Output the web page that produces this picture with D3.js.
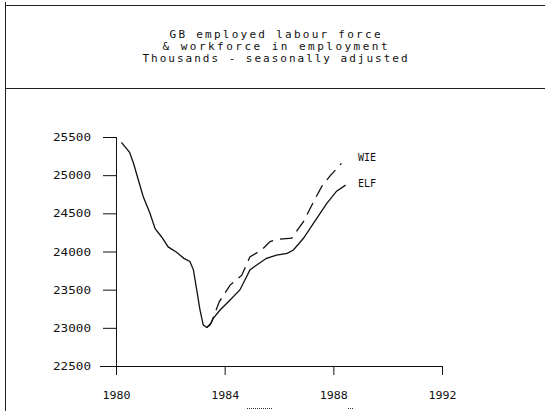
<!DOCTYPE html>
<html>
<head>
<meta charset="utf-8">
<script src="https://cdn.jsdelivr.net/npm/d3@7"></script>
<style>
  html, body { margin: 0; padding: 0; background: #fff; }
  svg { display: block; }
  text { font-family: "DejaVu Sans Mono", monospace; fill: #111; }
</style>
</head>
<body>
<svg id="chart" width="545" height="411"></svg>
<script>
const titleLines = ["GB employed labour force", "& workforce in employment", "Thousands - seasonally adjusted"];
const yTicks = [22500, 23000, 23500, 24000, 24500, 25000, 25500];
const xTicks = [1980, 1984, 1988, 1992];

const elfYears = [1980.2, 1980.5, 1980.65, 1980.82, 1981.0, 1981.25, 1981.44, 1981.68, 1981.92, 1982.23, 1982.5, 1982.72, 1982.85, 1982.97, 1983.09, 1983.21, 1983.34, 1983.46, 1983.58, 1983.83, 1984.2, 1984.56, 1984.93, 1985.18, 1985.54, 1985.91, 1986.3, 1986.53, 1986.9, 1987.39, 1987.76, 1988.12, 1988.45];
const elfValues = [25430, 25300, 25150, 24940, 24720, 24500, 24300, 24190, 24060, 23990, 23910, 23870, 23760, 23500, 23240, 23040, 23005, 23037, 23124, 23234, 23365, 23496, 23758, 23823, 23911, 23954, 23975, 24020, 24173, 24435, 24631, 24790, 24870];

const wieYears = [1983.34, 1983.5, 1983.8, 1984.2, 1984.63, 1984.93, 1985.36, 1985.67, 1985.97, 1986.47, 1986.9, 1987.27, 1987.57, 1987.88, 1988.3];
const wieValues = [23005, 23060, 23340, 23560, 23690, 23930, 24020, 24130, 24160, 24175, 24390, 24650, 24850, 24990, 25155];

const seriesLabels = ["WIE", "ELF"];

const svg = d3.select("#chart");

// frame
const frame = svg.append("g").attr("stroke", "#222").attr("stroke-width", 1).attr("fill", "none");
frame.append("line").attr("x1", 5.5).attr("x2", 5.5).attr("y1", 2).attr("y2", 411);
frame.append("line").attr("x1", 5).attr("x2", 545).attr("y1", 5.5).attr("y2", 5.5);
frame.append("line").attr("x1", 5).attr("x2", 545).attr("y1", 88.5).attr("y2", 88.5);

// title
const titleY = [34, 46, 58];
const titleW = [211, 225, 265];
titleLines.forEach((t, i) => {
  svg.append("text")
    .attr("x", 275 - titleW[i] / 2)
    .attr("y", titleY[i] + 4)
    .attr("font-size", 11)
    .attr("textLength", titleW[i])
    .attr("lengthAdjust", "spacing")
    .text(t);
});

const x = d3.scaleLinear().domain([1980, 1992]).range([116, 442]);
const y = d3.scaleLinear().domain([22500, 25500]).range([366, 137]);

// y axis
const yAxis = svg.append("g").attr("transform", "translate(116,0)")
  .call(d3.axisLeft(y).tickValues(yTicks).tickSize(13).tickPadding(12).tickFormat(d3.format("d")));
yAxis.select(".domain").remove();
yAxis.selectAll("line").attr("stroke", "#111");
yAxis.selectAll("text").attr("font-size", 11).attr("fill", "#111")
  .attr("textLength", 38).attr("lengthAdjust", "spacingAndGlyphs");
svg.append("line").attr("x1", 116.5).attr("x2", 116.5).attr("y1", y(25500)).attr("y2", y(22500) + 1)
  .attr("stroke", "#111");

// x axis
const xAxis = svg.append("g").attr("transform", "translate(0,366)")
  .call(d3.axisBottom(x).tickValues(xTicks).tickSize(9).tickPadding(16).tickFormat(d3.format("d")));
xAxis.select(".domain").remove();
xAxis.selectAll("line").attr("stroke", "#111");
xAxis.selectAll("text").attr("font-size", 11).attr("fill", "#111")
  .attr("textLength", 28).attr("lengthAdjust", "spacingAndGlyphs");
svg.append("line").attr("x1", 100).attr("x2", x(1992) + 0.5).attr("y1", 366.5).attr("y2", 366.5)
  .attr("stroke", "#111");

// lines
const line = d3.line().x(d => x(d[0])).y(d => y(d[1]));
const elf = elfYears.map((yr, i) => [yr, elfValues[i]]);
const wie = wieYears.map((yr, i) => [yr, wieValues[i]]);

svg.append("path").datum(elf).attr("d", line)
  .attr("fill", "none").attr("stroke", "#111").attr("stroke-width", 1.3);
svg.append("path").datum(wie).attr("d", line)
  .attr("fill", "none").attr("stroke", "#111").attr("stroke-width", 1.3)
  .attr("stroke-dasharray", "13,7");

// series labels
svg.append("text").attr("x", 358).attr("y", y(wieValues[wieValues.length - 1]) - 2)
  .attr("font-size", 10).text(seriesLabels[0]);
svg.append("text").attr("x", 358).attr("y", y(elfValues[elfValues.length - 1]) + 2)
  .attr("font-size", 10).text(seriesLabels[1]);

// small scan marks at bottom
svg.append("line").attr("x1", 247).attr("x2", 272).attr("y1", 408.5).attr("y2", 408.5)
  .attr("stroke", "#333").attr("stroke-dasharray", "1,1");
svg.append("line").attr("x1", 348).attr("x2", 353).attr("y1", 408.5).attr("y2", 408.5)
  .attr("stroke", "#333").attr("stroke-dasharray", "1,1");
</script>
</body>
</html>
